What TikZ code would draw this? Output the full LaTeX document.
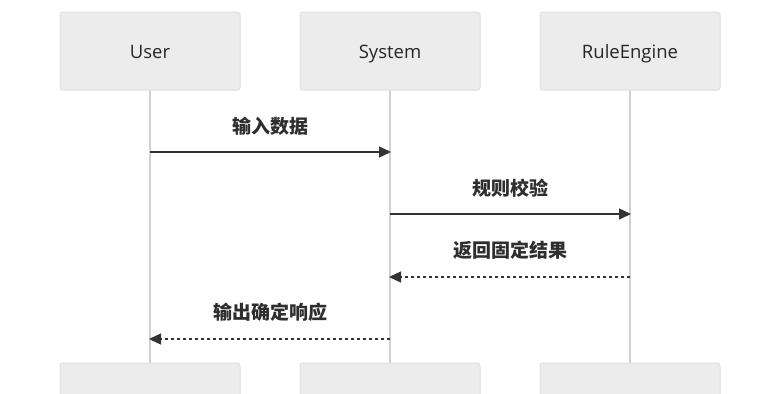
\documentclass[tikz,border=0pt]{standalone}
\usepackage{fontspec}
\setmainfont{Open Sans}
\newfontfamily\cjk{Noto Sans CJK SC}
\usetikzlibrary{arrows.meta}
\begin{document}
\begin{tikzpicture}[x=1pt,y=-1pt,
  actorbox/.style={draw=black!12,line width=1pt,fill=black!7.5,rounded corners=2.5pt,minimum width=180pt,minimum height=78pt,inner sep=0pt,text height=14pt,text depth=0pt,font=\fontsize{18.5}{22}\selectfont,text=black!85},
  lifeline/.style={draw=black!18,line width=1.6pt},
  msg/.style={draw=black!80,line width=1.3pt,-{Triangle[length=12pt,width=11pt]}},
  reply/.style={msg,dash pattern=on 3pt off 3pt},
  msglabel/.style={font=\cjk\bfseries\fontsize{19}{22}\selectfont,text=black!82,inner sep=0pt}]
\useasboundingbox (0,0) rectangle (780,394);
\begin{scope}
\clip (0,0) rectangle (780,394);
\foreach \n/\x/\t in {u/150/User,s/390/System,r/630/RuleEngine}{
  \coordinate (\n t) at (\x,90);
  \coordinate (\n b) at (\x,363);
  \draw[lifeline] (\n t) -- (\n b);
  \node[actorbox] (\n top) at (\x,51) {\t};
  \node[actorbox] (\n bot) at (\x,402) {};
}
\end{scope}
\coordinate (u1) at (150,152); \coordinate (s1) at (391,152);
\coordinate (s2) at (390,214); \coordinate (r2) at (631,214);
\coordinate (r3) at (630,277); \coordinate (s3) at (389,277);
\coordinate (s4) at (390,339); \coordinate (u4) at (149,339);
\draw[msg] (u1) -- (s1);
\node[msglabel] (l1) at (270,126) {输入数据};
\draw[msg] (s2) -- (r2);
\node[msglabel] (l2) at (510,188) {规则校验};
\draw[reply] (r3) -- (s3);
\node[msglabel] (l3) at (510,250) {返回固定结果};
\draw[reply] (s4) -- (u4);
\node[msglabel] (l4) at (270,312) {输出确定响应};
\end{tikzpicture}
\end{document}
